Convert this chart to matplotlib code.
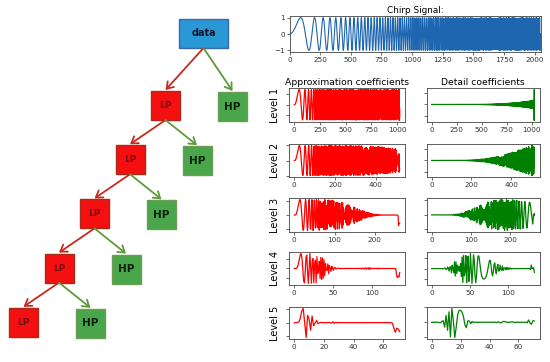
import numpy as np
import matplotlib
matplotlib.use("Agg")
import matplotlib.pyplot as plt
from matplotlib.patches import Rectangle, FancyArrowPatch

# ---- data ----
n_samples = 2048
chirp_rate = 250  # sin(rate * pi * t^2)
levels = [1, 2, 3, 4, 5]
level_labels = ["Level 1", "Level 2", "Level 3", "Level 4", "Level 5"]
level_xticks = [[0, 250, 500, 750, 1000], [0, 200, 400], [0, 100, 200], [0, 50, 100], [0, 20, 40, 60]]
# sym5 decomposition low-pass filter
sym5_dec_lo = [0.027333068345077982, 0.029519490925774643, -0.039134249302383094,
               0.1993975339773936, 0.7234076904024206, 0.6339789634582119,
               0.01660210576452232, -0.17532808990845047, -0.021101834024758855,
               0.019538882735286728]
chirp_xticks = [0, 250, 500, 750, 1000, 1250, 1500, 1750, 2000]
chirp_yticks = [-1, 0, 1]
tree_root = "data"
tree_low = "LP"
tree_high = "HP"

t = np.linspace(0, 1, num=n_samples)
chirp = np.sin(chirp_rate * np.pi * t ** 2)

dec_lo = np.array(sym5_dec_lo)
F = len(dec_lo)
dec_hi = np.array([(-1) ** (k + 1) * dec_lo[F - 1 - k] for k in range(F)])


def dwt(x):
    ext = np.pad(x, F - 1, mode="symmetric")
    a = np.convolve(ext, dec_lo, mode="valid")[1::2]
    d = np.convolve(ext, dec_hi, mode="valid")[1::2]
    return a, d


W, H = 550, 362
fig = plt.figure(figsize=(W / 100, H / 100), dpi=100)


def px_axes(x0, y0, x1, y1):
    return fig.add_axes([x0 / W, 1 - y1 / H, (x1 - x0) / W, (y1 - y0) / H])


def style(ax):
    for s in ax.spines.values():
        s.set_linewidth(0.6)
        s.set_color("#444444")
    ax.tick_params(labelsize=5.2, length=2, width=0.5, pad=1.5, colors="#333333")


# ---- tree diagram ----
tree = fig.add_axes([0, 0, 1, 1])
tree.set_xlim(0, W)
tree.set_ylim(H, 0)
tree.axis("off")
tree.set_zorder(-1)

box = 29
red_arrow = "#c62a1e"
green_arrow = "#5e9a3c"


def draw_box(x, y, w, h, fc, ec, label, tc, fs):
    tree.add_patch(Rectangle((x, y), w, h, facecolor=fc, edgecolor=ec, lw=1.0))
    tree.text(x + w / 2, y + h / 2, label, ha="center", va="center",
              fontsize=fs, fontweight="bold", color=tc)


def arrow(p0, p1, color):
    tree.add_patch(FancyArrowPatch(p0, p1, arrowstyle="->,head_length=4.5,head_width=3",
                                   color=color, lw=1.3, shrinkA=0, shrinkB=0))


draw_box(179, 19, 49, 29, "#2b98d6", "#3c6aa8", tree_root, "#101830", 7)
parent_bottom = (203.5, 48)
for i, lv in enumerate(levels):
    lx = 151 - 35.5 * i
    ly = 91 + 54.2 * i
    hx = lx + 67
    hy = ly + 1
    arrow(parent_bottom, (lx + box / 2, ly - 1), red_arrow)
    arrow(parent_bottom, (hx + box / 2, hy - 1), green_arrow)
    draw_box(lx, ly, box, box, "#f41010", "#a82a18", tree_low, "#7a0a0a", 6.5)
    draw_box(hx, hy, box, box, "#4aa64a", "#6e9c56", tree_high, "#0c1e0c", 7.5)
    parent_bottom = (lx + box / 2, ly + box)

# ---- chirp ----
ax = px_axes(289.5, 16, 540.5, 52)
ax.plot(chirp, color="#1f66b0", lw=0.8)
ax.set_xlim(0, n_samples)
ax.set_xticks(chirp_xticks)
ax.set_yticks(chirp_yticks)
ax.set_title("Chirp Signal:", fontsize=6.4, pad=2)
style(ax)

# ---- decomposition ----
rows = [(88, 122), (144, 177), (198, 232), (252, 285), (307, 339)]
data = chirp
for i, lv in enumerate(levels):
    data, coeff_d = dwt(data)
    y0, y1 = rows[i]
    axa = px_axes(289, y0, 405, y1)
    axd = px_axes(426.5, y0, 539.5, y1)
    axa.plot(data, color="red", lw=0.9)
    axd.plot(coeff_d, color="green", lw=0.9)
    axa.set_xticks(level_xticks[i])
    axd.set_xticks(level_xticks[i])
    axa.set_ylabel(level_labels[i], fontsize=7, labelpad=3)
    axa.set_yticklabels([])
    axd.set_yticklabels([])
    if i == 0:
        axa.set_title("Approximation coefficients", fontsize=6.7, pad=2)
        axd.set_title("Detail coefficients", fontsize=6.7, pad=2)
    style(axa)
    style(axd)

fig.savefig("out.png", dpi=100)
